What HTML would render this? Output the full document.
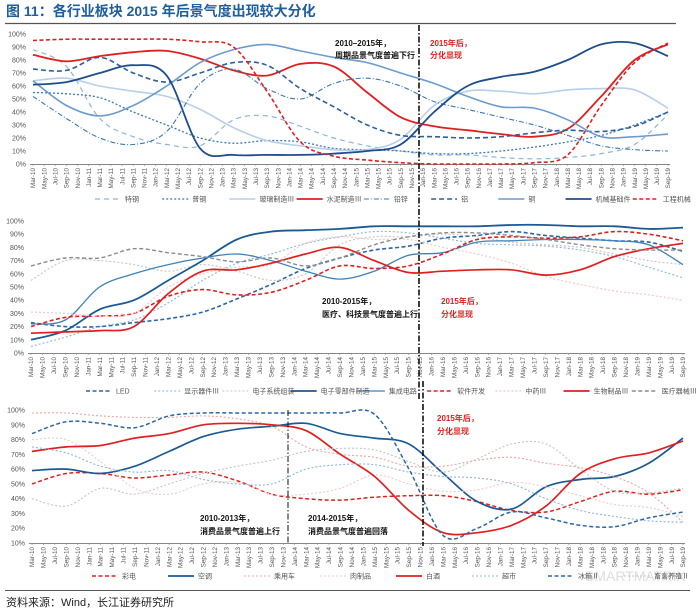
<!DOCTYPE html>
<html><head><meta charset="utf-8">
<style>
body{margin:0;background:#fff;}
#wrap{position:relative;width:700px;height:614px;overflow:hidden;font-family:"Liberation Sans","Noto Sans CJK SC",sans-serif;}
svg text{font-family:"Liberation Sans","Noto Sans CJK SC",sans-serif;}
</style></head>
<body>
<div id="wrap">
<svg id="svg" width="700" height="614" viewBox="0 0 700 614">
  <text x="6" y="16" font-size="14" font-weight="bold" fill="#1f5fa0">图 11：各行业板块 2015 年后景气度出现较大分化</text>
  <line x1="5" y1="23.5" x2="676" y2="23.5" stroke="#555" stroke-width="1.2"/>
  <line x1="5" y1="590.5" x2="690" y2="590.5" stroke="#555" stroke-width="1"/>
  <text x="6" y="606" font-size="11" fill="#222">资料来源：Wind，长江证券研究所</text>
  <text x="585" y="581" font-size="14" fill="#ddd">SMARTMATRIX</text>
</svg>
</div>
<script>
// ---------- categories (x labels) ----------
const xLabels = [];
const monthNames = ["Jan","Mar","May","Jul","Sep","Nov"];
for (let y = 10; y <= 19; y++) { for (const m of monthNames) { const l = m + "-" + y; if (y === 10 && m === "Jan") continue; if (y === 19 && m === "Nov") continue; xLabels.push(l); } }
// sample indices (into xLabels) at which series values are read
const sampleIdx = [0,3,6,9,12,15,18,21,24,27,30,33,36,39,42,45,48,51,54,57];

// ---------- top panel data ----------
const topNames = ["特钢","普钢","玻璃制造Ⅲ","水泥制造Ⅲ","铅锌","铝","铜","机械基础件","工程机械"];
const topTeGang   = [88,75,35,21,15,14,34,37,29,20,14,10,7,7,5,4,5,8,15,38];
const topPuGang   = [55,54,51,40,30,20,16,18,17,12,11,10,8,8,10,13,17,22,30,40];
const topBoli     = [64,66,60,56,52,42,28,18,14,11,11,19,45,56,56,54,57,58,57,43];
const topShuini   = [84,79,83,86,87,81,72,68,77,75,55,36,29,26,23,21,27,52,80,92];
const topQianxin  = [52,35,20,15,25,62,73,58,50,62,66,60,48,42,36,30,22,14,11,10];
const topLv       = [73,72,82,70,63,70,78,76,58,44,30,22,21,20,21,24,26,25,29,40];
const topTong     = [64,45,37,45,60,78,88,92,87,82,78,70,62,52,44,43,34,21,21,23];
const topJixie    = [61,63,70,76,68,12,7,7,7,8,10,15,40,60,67,71,80,92,93,83];
const topGongcheng= [95,96,96,96,96,94,90,56,17,6,3,1,0,0,0,1,7,45,78,93];
const topTicks = [0,10,20,30,40,50,60,70,80,90,100];

// ---------- middle panel data ----------
const midNames = ["LED","显示器件Ⅲ","电子系统组装","电子零部件制造","集成电路","软件开发","中药Ⅲ","生物制品Ⅲ","医疗器械Ⅲ"];
const midLED     = [23,20,20,23,26,31,41,52,64,72,78,81,87,89,92,89,87,85,84,77];
const midXianshi = [5,12,20,25,38,55,68,75,83,88,92,91,87,83,82,81,78,73,65,57];
const midZuzhuang= [55,70,70,67,62,67,62,55,60,82,88,88,90,88,84,82,80,75,70,67];
const midLingbu  = [10,17,33,40,55,70,86,92,93,94,96,96,96,96,97,97,96,96,94,95];
const midJicheng = [22,25,50,60,67,72,75,70,62,56,62,74,76,84,85,86,86,85,82,67];
const midRuanjian= [20,27,28,30,43,48,44,46,55,66,64,66,75,86,88,87,88,92,90,85];
const midZhongyao= [31,30,28,30,50,60,65,67,83,88,86,86,80,75,68,58,52,47,44,40];
const midShengwu = [15,16,17,20,45,62,63,68,75,80,70,61,62,63,63,59,63,73,79,83];
const midYiliao  = [66,72,72,79,76,73,69,72,66,72,82,88,91,91,89,86,82,79,78,78];
const midTicks = [0,10,20,30,40,50,60,70,80,90,100];

// ---------- bottom panel data ----------
const botNames = ["彩电","空调","乘用车","肉制品","白酒","超市","冰箱Ⅱ","畜禽养殖Ⅱ"];
const botCaidian = [50,57,57,54,56,58,52,43,40,39,41,42,42,38,32,31,38,45,43,46];
const botKongtiao= [59,60,57,62,72,82,87,89,91,84,81,77,57,38,33,48,53,55,64,81];
const botChengyong=[98,98,96,95,95,96,94,89,75,70,68,62,62,66,68,64,61,55,44,24];
const botRou     = [80,80,65,47,43,50,51,43,43,47,56,50,45,46,51,48,42,36,34,28];
const botBaijiu  = [72,75,76,81,84,90,91,90,86,70,55,32,17,17,22,35,57,67,71,79];
const botChaoshi = [75,71,62,58,59,53,50,50,60,63,63,58,55,54,50,40,32,28,25,24];
const botBingxiang=[84,92,91,88,96,98,98,98,98,98,97,60,15,20,31,27,22,21,27,31];
const botXuqin   = [40,35,47,43,50,57,62,66,72,74,73,65,58,67,77,77,60,45,44,47];
const botTicks = [10,20,30,40,50,60,70,80,90,100];

// ---------- drawing ----------
const NS = "http://www.w3.org/2000/svg";
const svg = document.getElementById("svg");
function mk(tag, attrs, parent) { const e = document.createElementNS(NS, tag); for (const k in attrs) e.setAttribute(k, attrs[k]); (parent||svg).appendChild(e); return e; }

const DB="#1f4e8c", MB="#3a78b5", LB="#8fb4dc", LLB="#b7cfe8", RED="#e02020", PINK="#f0a3a3", LPINK="#f6c8c8", GR="#8c8c8c", LGR="#c4c4c4";

function smoothPath(pts) {
  let d = "M" + pts[0][0].toFixed(1) + "," + pts[0][1].toFixed(1);
  for (let i = 0; i < pts.length - 1; i++) {
    const p0 = pts[Math.max(0,i-1)], p1 = pts[i], p2 = pts[i+1], p3 = pts[Math.min(pts.length-1,i+2)];
    const c1x = p1[0] + (p2[0]-p0[0])/6, c1y = p1[1] + (p2[1]-p0[1])/6;
    const c2x = p2[0] - (p3[0]-p1[0])/6, c2y = p2[1] - (p3[1]-p1[1])/6;
    d += " C" + c1x.toFixed(1)+","+c1y.toFixed(1)+" "+c2x.toFixed(1)+","+c2y.toFixed(1)+" "+p2[0].toFixed(1)+","+p2[1].toFixed(1);
  }
  return d;
}

function drawPanel(cfg) {
  const g = mk("g", {});
  
  
  const xS = i => cfg.x0 + i * (cfg.x1 - cfg.x0) / (xLabels.length - 1);
  const yS = v => cfg.yBot - (v - cfg.vMin) / (cfg.vMax - cfg.vMin) * (cfg.yBot - cfg.yTop);
  const ax = mk("line", {x1: cfg.x0 - 3, x2: cfg.x1 + 2, y1: cfg.yBot + 0.5, y2: cfg.yBot + 0.5, stroke: "#888", "stroke-width": 1}, g);
  
  
  cfg.ticks.forEach(t => {
    const tx = mk("text", {x: cfg.x0 - 7, y: yS(t) + 2.5, "font-size": 7, fill: "#555", "text-anchor": "end"}, g);
    tx.textContent = t + "%";
    
    
  });
  xLabels.forEach((l, i) => {
    const x = xS(i);
    mk("line", {x1: x, x2: x, y1: cfg.yBot, y2: cfg.yBot + 2, stroke: "#888", "stroke-width": 0.6}, g);
    const tx = mk("text", {x: 0, y: 0, "font-size": 6.3, fill: "#555", "text-anchor": "end", transform: "translate(" + (x + 2.2).toFixed(1) + "," + (cfg.yBot + 4) + ") rotate(-90)"}, g);
    tx.textContent = l;
    
    
  });
  cfg.series.forEach(s => {
    const pts = s.data.map((v, k) => [xS(sampleIdx[k]), yS(Math.max(cfg.vMin - 2, v))]);
    const p = mk("path", {d: smoothPath(pts), fill: "none", stroke: s.color, "stroke-width": s.w || 1.6, "stroke-dasharray": s.dash || "none"}, g);
    
    
  });
  const n = cfg.series.length, step = (cfg.legX1 - cfg.legX0) / n;
  cfg.series.forEach((s, k) => {
    const lx = cfg.legX0 + k * step;
    const ln = mk("line", {x1: lx, x2: lx + 26, y1: cfg.legY, y2: cfg.legY, stroke: s.color, "stroke-width": s.w || 1.6, "stroke-dasharray": s.dash || "none"}, g);
    
    
    const tx = mk("text", {x: lx + 30, y: cfg.legY + 2.5, "font-size": 7, fill: "#555"}, g);
    tx.textContent = s.label;
    
    
  });
}

drawPanel({name: "cyclical-panel", x0: 33, x1: 668, yTop: 34, yBot: 164, vMin: 0, vMax: 100, ticks: topTicks, legX0: 95, legX1: 700, legY: 199,
  series: [
    {label: topNames[0], data: topTeGang, color: LB, dash: "5,4", w: 1.2},
    {label: topNames[1], data: topPuGang, color: MB, dash: "2,2", w: 1.3},
    {label: topNames[2], data: topBoli, color: LLB, w: 1.6},
    {label: topNames[3], data: topShuini, color: RED, w: 1.8},
    {label: topNames[4], data: topQianxin, color: MB, dash: "5,2,1,2", w: 1.1},
    {label: topNames[5], data: topLv, color: "#2e5f9a", dash: "5,3", w: 1.6},
    {label: topNames[6], data: topTong, color: "#6d9bd0", w: 1.6},
    {label: topNames[7], data: topJixie, color: DB, w: 1.8},
    {label: topNames[8], data: topGongcheng, color: RED, dash: "4,2.5", w: 1.6}
  ]});

drawPanel({name: "tech-health-panel", x0: 31, x1: 683, yTop: 221, yBot: 353, vMin: 0, vMax: 100, ticks: midTicks, legX0: 86, legX1: 700, legY: 391,
  series: [
    {label: midNames[0], data: midLED, color: "#2a66a8", dash: "4,2.5", w: 1.6},
    {label: midNames[1], data: midXianshi, color: LB, dash: "2,2", w: 1.1},
    {label: midNames[2], data: midZuzhuang, color: LGR, dash: "2,2", w: 1.1},
    {label: midNames[3], data: midLingbu, color: "#1b5a94", w: 1.8},
    {label: midNames[4], data: midJicheng, color: "#3f82b8", w: 1.3},
    {label: midNames[5], data: midRuanjian, color: RED, dash: "4,2.5", w: 1.6},
    {label: midNames[6], data: midZhongyao, color: LPINK, dash: "2,2", w: 1.2},
    {label: midNames[7], data: midShengwu, color: RED, w: 1.7},
    {label: midNames[8], data: midYiliao, color: GR, dash: "4,2.5", w: 1.4}
  ]});

drawPanel({name: "consumer-panel", x0: 32, x1: 683, yTop: 410, yBot: 543, vMin: 10, vMax: 100, ticks: botTicks, legX0: 92, legX1: 700, legY: 576,
  series: [
    {label: botNames[0], data: botCaidian, color: RED, dash: "4,2.5", w: 1.5},
    {label: botNames[1], data: botKongtiao, color: "#1b5a94", w: 1.7},
    {label: botNames[2], data: botChengyong, color: PINK, dash: "2,2", w: 1.1},
    {label: botNames[3], data: botRou, color: LPINK, dash: "2,2", w: 1.1},
    {label: botNames[4], data: botBaijiu, color: RED, w: 1.7},
    {label: botNames[5], data: botChaoshi, color: LB, dash: "2,2", w: 1.1},
    {label: botNames[6], data: botBingxiang, color: "#2a66a8", dash: "4,2.5", w: 1.5},
    {label: botNames[7], data: botXuqin, color: LGR, dash: "2,2", w: 1.1}
  ]});

function vline(x, y1, y2, w, name) {
  const l = mk("line", {x1: x, x2: x, y1: y1, y2: y2, stroke: "#111", "stroke-width": w, "stroke-dasharray": "6,2,1.5,2"});
  
  
}
vline(419, 25, 400, 1.6, "divider-2016-top");
vline(288, 410, 543, 1, "divider-2014-bottom");
vline(423, 381, 546, 1.6, "divider-2016-bottom");
function note(x, y, t, c, name) {
  const e = mk("text", {x: x, y: y, "font-size": 8, "font-weight": "bold", fill: c});
  e.textContent = t;
  
  
}
note(335, 46, "2010–2015年，", "#111", "annotation-cyclical");
note(335, 58, "周期品景气度普遍下行", "#111", "annotation-cyclical");
note(430, 46, "2015年后，", RED, "annotation-divergence");
note(430, 58, "分化显现", RED, "annotation-divergence");
note(322, 304, "2010-2015年，", "#111", "annotation-tech");
note(322, 317, "医疗、科技景气度普遍上行", "#111", "annotation-tech");
note(441, 304, "2015年后，", RED, "annotation-divergence");
note(441, 317, "分化显现", RED, "annotation-divergence");
note(437, 421, "2015年后，", RED, "annotation-divergence");
note(437, 434, "分化显现", RED, "annotation-divergence");
note(200, 521, "2010-2013年，", "#111", "annotation-consumer-up");
note(200, 534, "消费品景气度普遍上行", "#111", "annotation-consumer-up");
note(308, 521, "2014-2015年，", "#111", "annotation-consumer-down");
note(308, 534, "消费品景气度普遍回落", "#111", "annotation-consumer-down");
</script>
</body></html>
